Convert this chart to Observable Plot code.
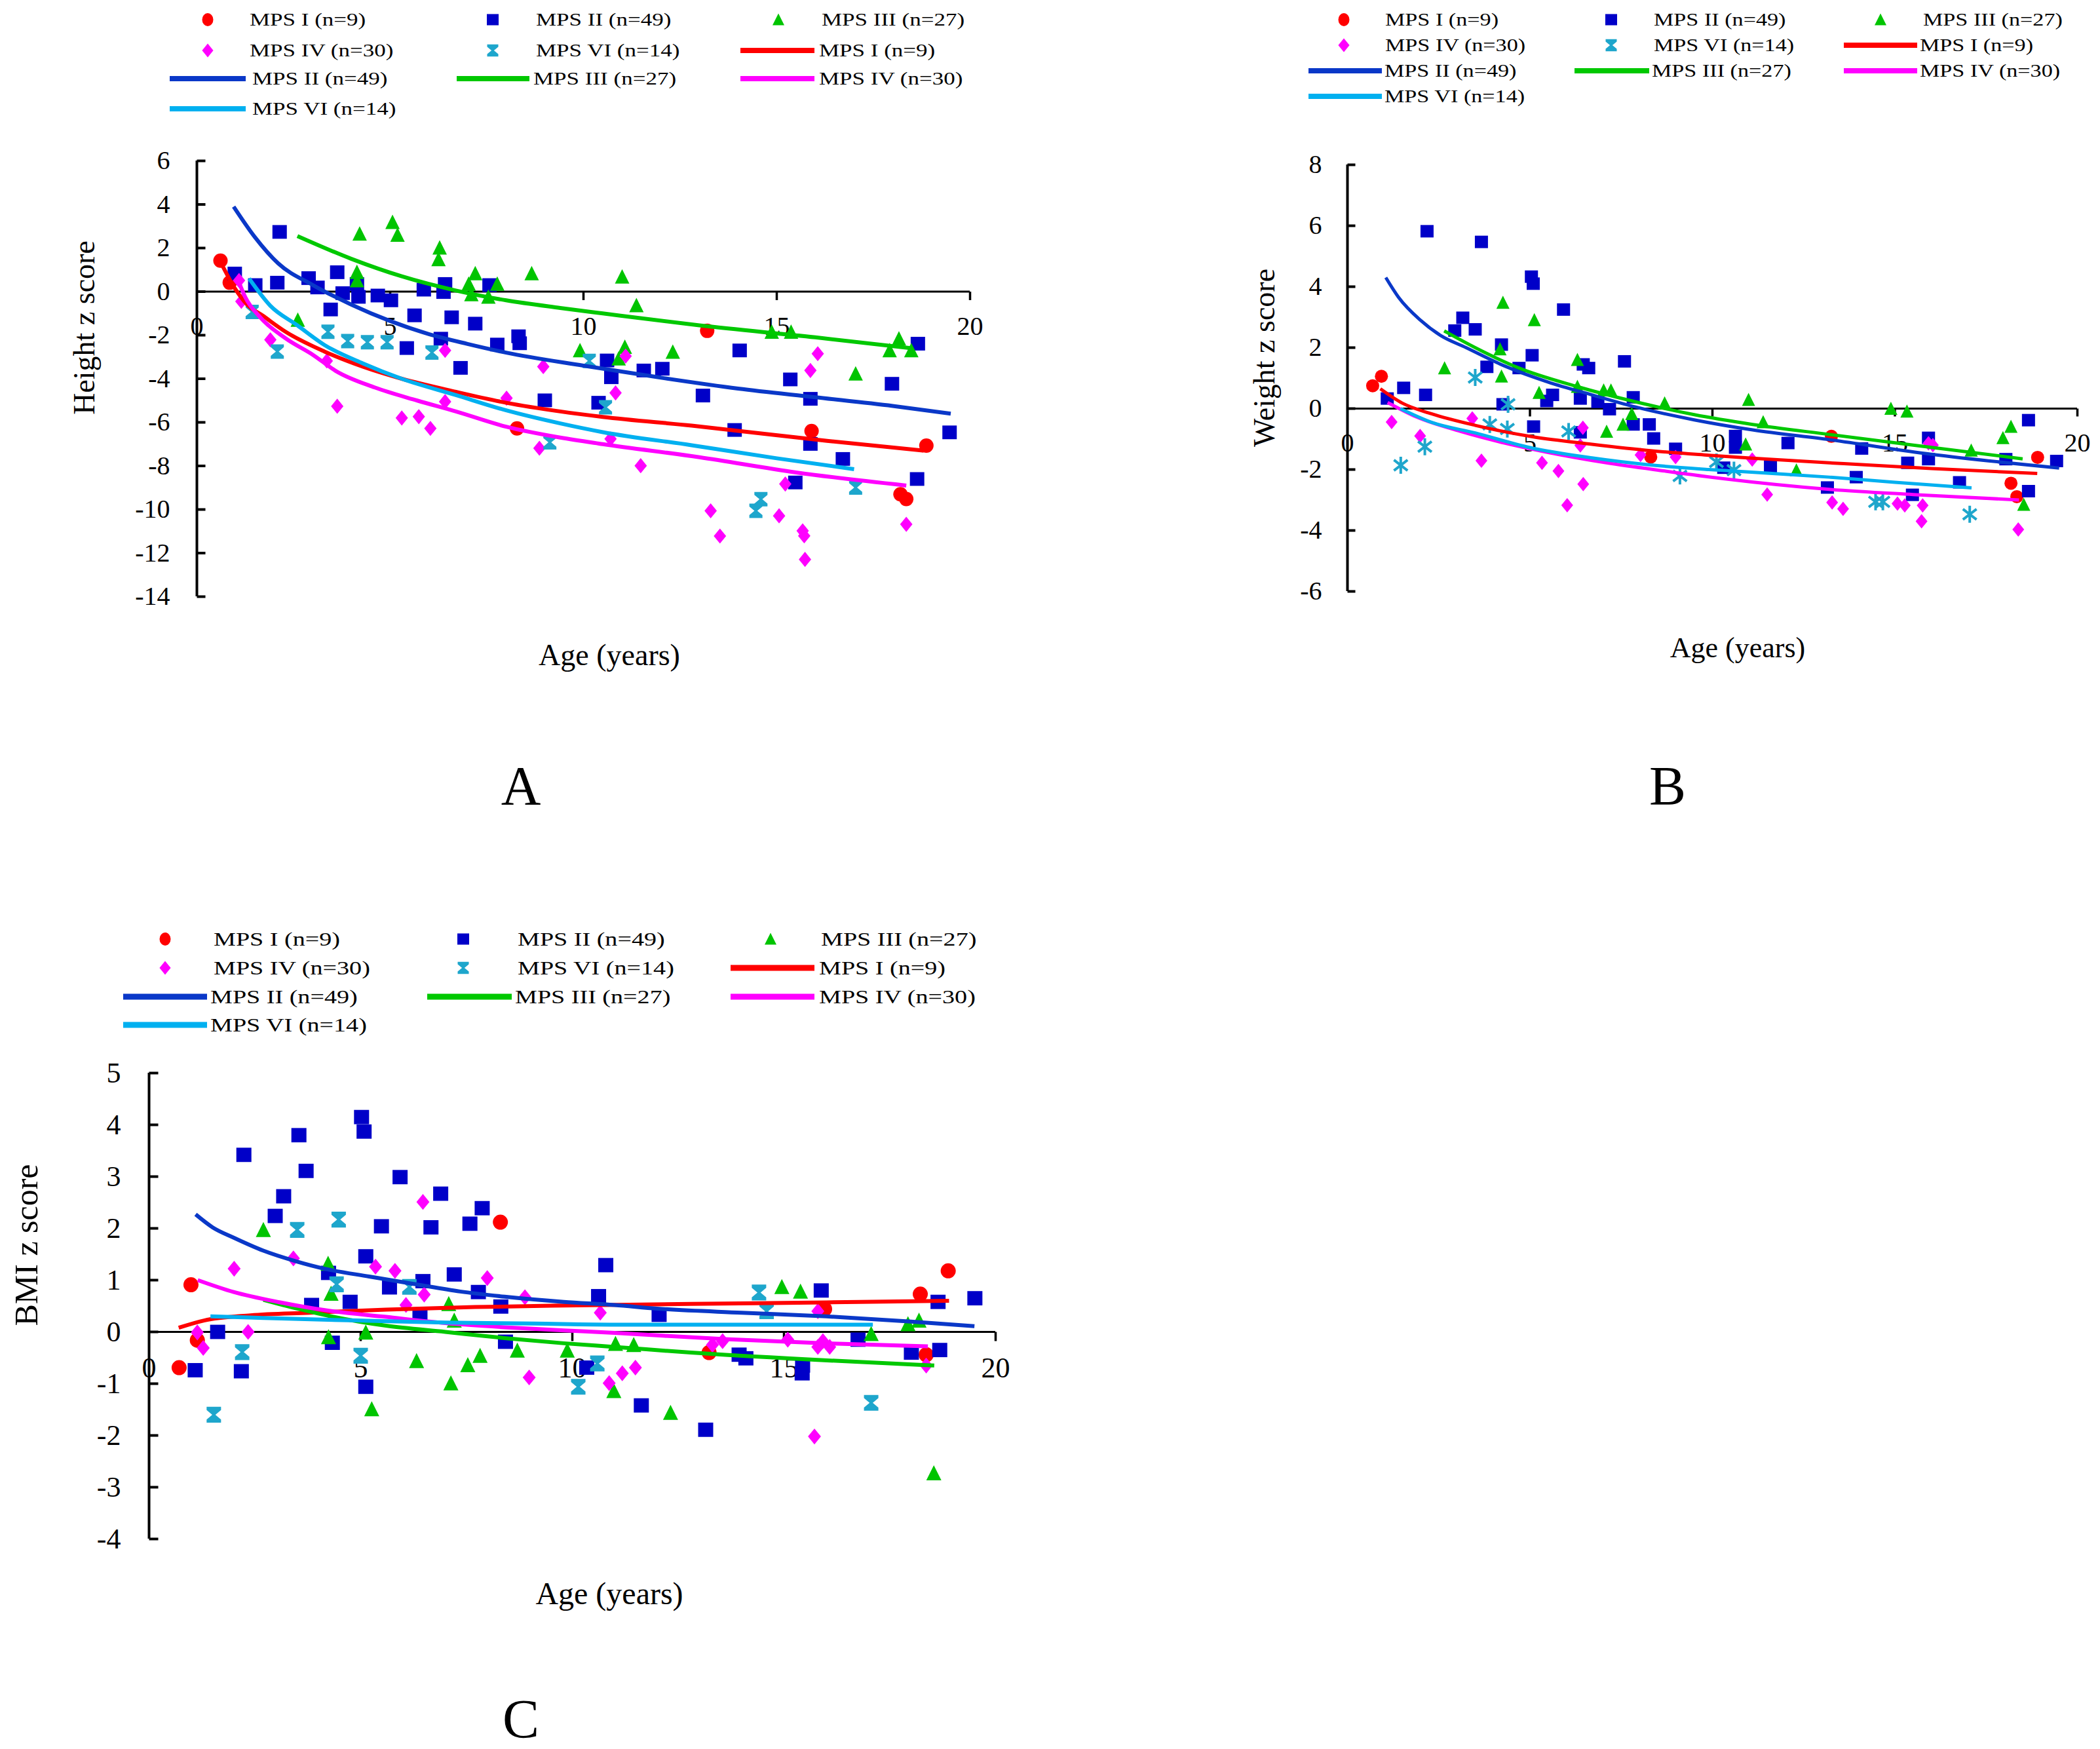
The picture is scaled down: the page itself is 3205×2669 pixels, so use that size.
<!DOCTYPE html>
<html><head><meta charset="utf-8">
<script src="https://cdn.jsdelivr.net/npm/d3@7"></script>
<script src="https://cdn.jsdelivr.net/npm/@observablehq/plot@0.6"></script>
<style>
html,body{margin:0;padding:0;background:#fff;}
#root{position:relative;width:3205px;height:2669px;background:#fff;font-family:"Liberation Serif","Times New Roman",serif;color:#000;overflow:hidden;}
.ttl{position:absolute;white-space:nowrap;line-height:1;transform:translate(-50%,-50%);}
.ttlv{position:absolute;white-space:nowrap;line-height:1;transform:translate(-50%,-50%) rotate(-90deg);}
.letter{position:absolute;white-space:nowrap;line-height:0.7;transform:translate(-50%,-50%);}
.lg{position:absolute;white-space:nowrap;line-height:1;transform-origin:0 50%;}
.plotbox{position:absolute;}
</style></head><body><div id="root"></div>
<script>
// ---------------- DATA ----------------
const SERIES = ["MPS I (n=9)", "MPS II (n=49)", "MPS III (n=27)", "MPS IV (n=30)", "MPS VI (n=14)"];
const X_TICKS = [0, 5, 10, 15, 20];
const A_Y_TICKS = [6, 4, 2, 0, -2, -4, -6, -8, -10, -12, -14];
const B_Y_TICKS = [8, 6, 4, 2, 0, -2, -4, -6];
const C_Y_TICKS = [5, 4, 3, 2, 1, 0, -1, -2, -3, -4];

// Panel A: Height z score  [age, z]
const A_I = [[0.61,1.42],[0.85,0.41],[8.28,-6.28],[13.2,-1.8],[15.9,-6.4],[18.87,-7.07],[18.2,-9.3],[18.35,-9.52]];
const A_II = [[0.98,0.83],[1.51,0.30],[2.08,0.41],[2.14,2.74],[2.89,0.62],[3.12,0.19],[3.63,0.89],[3.77,-0.07],[3.46,-0.82],[4.18,-0.24],[4.14,0.35],[4.68,-0.18],[5.02,-0.40],[5.87,0.09],[6.42,0.35],[6.38,-0.02],[5.63,-1.09],[5.43,-2.59],[6.31,-2.16],[6.59,-1.18],[6.82,-3.50],[7.20,-1.47],[7.57,0.30],[7.77,-2.43],[8.32,-2.05],[8.35,-2.37],[9.0,-4.99],[10.39,-5.1],[10.61,-3.16],[10.72,-3.93],[11.56,-3.62],[12.04,-3.54],[13.09,-4.77],[14.04,-2.70],[13.91,-6.35],[15.35,-4.03],[15.87,-4.92],[15.87,-6.99],[15.48,-8.76],[16.71,-7.68],[17.98,-4.23],[18.65,-2.39],[18.63,-8.6],[19.47,-6.46]];
const A_III = [[4.21,2.65],[5.06,3.19],[5.19,2.60],[6.28,2.01],[6.25,1.48],[4.14,0.89],[4.14,0.51],[7.20,0.83],[7.03,0.35],[7.10,-0.13],[7.77,0.35],[7.54,-0.24],[8.66,0.83],[2.61,-1.30],[9.91,-2.70],[11.0,0.68],[11.37,-0.63],[11.07,-2.54],[10.91,-3.08],[12.31,-2.77],[14.87,-1.85],[15.37,-1.85],[17.04,-3.77],[18.16,-2.16],[17.92,-2.70],[18.48,-2.70]];
const A_IV = [[1.09,0.51],[1.15,-0.45],[1.90,-2.21],[3.63,-5.26],[3.36,-3.18],[5.30,-5.80],[5.74,-5.74],[6.04,-6.28],[6.42,-5.05],[6.42,-2.70],[8.01,-4.89],[8.96,-3.44],[8.86,-7.19],[11.09,-2.96],[10.83,-4.65],[10.70,-6.76],[11.48,-7.99],[13.29,-10.06],[13.53,-11.22],[15.06,-10.29],[15.22,-8.83],[15.67,-10.98],[15.71,-11.21],[15.73,-12.29],[15.87,-3.62],[16.06,-2.85],[18.35,-10.68]];
const A_VI = [[1.43,-0.93],[2.08,-2.75],[3.39,-1.84],[3.90,-2.27],[4.41,-2.32],[4.92,-2.32],[6.08,-2.80],[9.13,-6.92],[10.15,-3.18],[10.57,-5.31],[14.46,-10.06],[14.59,-9.53],[17.04,-8.99]];
const A_I_FIT = [[0.6,1.4],[1,0.1],[1.3,-0.6],[1.7,-1.1],[2.3,-1.85],[3.3,-2.75],[4.3,-3.45],[5.3,-4.0],[6.7,-4.6],[8,-5.1],[9.4,-5.5],[10.5,-5.75],[12.8,-6.15],[16.3,-6.85],[18.8,-7.3]];
const A_II_FIT = [[0.95,3.9],[1.5,2.5],[2.1,1.3],[3,0.3],[4,-0.6],[5,-1.35],[6,-1.95],[7,-2.4],[8,-2.8],[10,-3.4],[12,-3.95],[14,-4.45],[16,-4.85],[18,-5.25],[19.5,-5.6]];
const A_III_FIT = [[2.6,2.55],[4,1.5],[5.3,0.7],[6.7,0.05],[8,-0.4],[9.4,-0.75],[10.5,-1.0],[13,-1.55],[16,-2.1],[18.5,-2.6]];
const A_IV_FIT = [[1.05,0.6],[1.25,-0.25],[1.65,-1.2],[2.3,-2.15],[3,-2.9],[3.6,-3.65],[4.6,-4.4],[5.7,-5.0],[6.7,-5.5],[8,-6.2],[9.4,-6.7],[10.5,-7.0],[13,-7.6],[15.5,-8.3],[18.35,-8.9]];
const A_VI_FIT = [[1.35,0.6],[1.9,-0.65],[2.6,-1.55],[3.3,-2.45],[4.3,-3.3],[5.3,-4.0],[6.7,-4.75],[8,-5.45],[9.4,-6.05],[10.5,-6.45],[12.8,-7.05],[15,-7.65],[17,-8.15]];

// Panel B: Weight z score
const B_I = [[0.69,0.75],[0.93,1.06],[8.31,-1.59],[13.26,-0.91],[18.91,-1.6],[18.18,-2.45],[18.34,-2.89]];
const B_II = [[2.18,5.82],[3.67,5.47],[5.04,4.33],[5.09,4.10],[5.92,3.25],[3.16,2.98],[2.94,2.56],[3.50,2.60],[4.22,2.10],[5.06,1.75],[3.82,1.37],[4.70,1.33],[6.46,1.45],[6.61,1.33],[7.59,1.55],[1.54,0.68],[2.14,0.45],[1.09,0.33],[5.62,0.45],[5.46,0.25],[6.38,0.33],[6.86,0.22],[7.83,0.37],[4.26,0.14],[7.18,-0.02],[7.83,-0.52],[8.27,-0.52],[8.39,-0.98],[5.10,-0.59],[6.38,-0.78],[8.99,-1.32],[10.63,-0.90],[10.63,-1.28],[12.07,-1.13],[11.59,-1.90],[10.31,-1.94],[13.15,-2.59],[14.09,-1.31],[13.94,-2.25],[15.35,-1.78],[15.48,-2.83],[15.92,-0.96],[15.92,-1.66],[16.77,-2.42],[18.04,-1.66],[18.66,-0.38],[18.66,-2.71],[19.43,-1.72]];
const B_III = [[4.26,3.48],[5.12,2.91],[2.66,1.33],[4.18,1.95],[4.22,1.06],[6.30,1.60],[5.25,0.52],[7.02,0.60],[7.22,0.60],[6.30,0.72],[7.79,-0.17],[7.55,-0.52],[7.10,-0.75],[8.69,0.18],[10.99,0.29],[11.39,-0.44],[10.91,-1.17],[12.30,-2.02],[14.89,0.0],[15.33,-0.09],[17.09,-1.37],[17.96,-0.96],[18.18,-0.59],[18.53,-3.15]];
const B_IV = [[1.21,-0.44],[1.99,-0.90],[3.42,-0.32],[3.67,-1.71],[5.33,-1.78],[5.78,-2.05],[6.46,-2.48],[6.02,-3.17],[6.45,-0.63],[6.38,-1.21],[8.03,-1.52],[8.99,-1.59],[11.09,-1.67],[11.50,-2.82],[13.28,-3.08],[13.58,-3.29],[15.07,-3.12],[15.27,-3.18],[15.76,-3.18],[15.73,-3.70],[16.04,-1.20],[15.92,-1.14],[18.38,-3.97]];
const B_VI = [[1.46,-1.86],[2.12,-1.25],[3.50,1.02],[4.40,0.14],[3.90,-0.52],[4.38,-0.67],[6.06,-0.75],[9.11,-2.21],[10.11,-1.75],[10.59,-2.02],[14.47,-3.06],[14.67,-3.06],[17.05,-3.47]];
const B_I_FIT = [[0.9,0.65],[1.5,0.18],[2.3,-0.17],[3.5,-0.55],[5.1,-0.93],[6.7,-1.17],[8.3,-1.38],[9.9,-1.53],[11.1,-1.63],[13.2,-1.78],[16,-1.97],[18.9,-2.13]];
const B_II_FIT = [[1.05,4.3],[1.4,3.65],[2,2.9],[2.55,2.4],[3.25,2.0],[4.3,1.4],[5.5,0.87],[6.7,0.45],[7.9,0.05],[9.5,-0.37],[11.1,-0.7],[13.2,-1.02],[16,-1.5],[19.5,-1.95]];
const B_III_FIT = [[2.65,2.55],[3.5,2.0],[4.7,1.33],[6.3,0.72],[7.9,0.22],[9.5,-0.2],[11.1,-0.52],[13.2,-0.85],[15.5,-1.2],[18.5,-1.65]];
const B_IV_FIT = [[1.1,0.2],[1.9,-0.28],[3.1,-0.75],[4.3,-1.13],[5.5,-1.44],[7.1,-1.78],[8.7,-2.05],[10.3,-2.3],[13.2,-2.65],[15.5,-2.82],[18.4,-3.0]];
const B_VI_FIT = [[1.45,0.0],[2.3,-0.45],[3.5,-0.8],[5,-1.28],[6.7,-1.62],[8.3,-1.85],[9.9,-2.0],[11.5,-2.12],[13.2,-2.25],[15,-2.42],[17.1,-2.6]];

// Panel C: BMI z score
const C_I = [[0.99,0.91],[0.71,-0.69],[1.14,-0.16],[8.30,2.12],[18.88,1.18],[18.22,0.73],[18.36,-0.44],[13.23,-0.40],[15.96,0.44]];
const C_II = [[1.09,-0.74],[1.62,0.0],[2.24,3.42],[2.18,-0.76],[2.98,2.24],[3.18,2.62],[3.54,3.80],[3.71,3.11],[3.84,0.52],[4.24,1.14],[4.33,-0.21],[4.75,0.58],[5.02,4.15],[5.08,3.87],[5.12,1.46],[5.12,-1.06],[5.49,2.04],[5.68,0.86],[5.93,2.99],[6.47,0.98],[6.40,0.32],[6.66,2.02],[6.89,2.67],[7.21,1.11],[7.58,2.09],[7.78,0.77],[7.87,2.39],[8.31,0.49],[8.42,-0.19],[10.62,0.69],[10.79,1.29],[10.34,-0.69],[12.05,0.33],[11.63,-1.42],[13.15,-1.89],[13.94,-0.44],[14.1,-0.51],[15.44,-0.65],[15.43,-0.80],[15.88,0.80],[16.75,-0.15],[18.01,-0.40],[18.64,0.58],[18.68,-0.35],[19.51,0.65]];
const C_III = [[2.70,1.97],[4.23,1.32],[4.30,0.74],[4.24,-0.10],[5.12,-0.01],[5.26,-1.49],[6.32,-0.56],[7.08,0.54],[7.21,0.22],[7.13,-0.99],[7.53,-0.64],[7.82,-0.46],[8.70,-0.36],[9.88,-0.36],[10.98,-1.14],[11.02,-0.23],[11.45,-0.25],[12.32,-1.56],[14.95,0.87],[15.39,0.78],[17.06,-0.04],[17.93,0.15],[18.19,0.22],[18.54,-2.73]];
const C_IV = [[1.14,-0.01],[1.28,-0.31],[2.01,1.22],[2.34,0.0],[3.41,1.42],[5.35,1.26],[5.81,1.18],[6.47,2.51],[6.50,0.72],[6.07,0.52],[7.99,1.04],[8.88,0.67],[8.98,-0.88],[10.66,0.37],[10.87,-0.99],[11.18,-0.80],[11.49,-0.69],[13.31,-0.25],[13.55,-0.18],[15.09,-0.15],[15.72,-2.02],[15.80,-0.29],[15.92,-0.18],[16.08,-0.29],[15.80,0.40],[18.36,-0.65]];
const C_VI = [[1.53,-1.60],[2.20,-0.39],[3.50,1.97],[4.48,2.17],[4.43,0.92],[5.00,-0.46],[6.15,0.87],[10.14,-1.06],[10.59,-0.61],[14.41,0.76],[14.59,0.40],[17.06,-1.37]];
const C_I_FIT = [[0.7,0.08],[1.3,0.22],[2.4,0.32],[3.8,0.37],[5.6,0.43],[7.7,0.48],[9.8,0.51],[12.8,0.54],[16,0.57],[18.9,0.6]];
const C_II_FIT = [[1.1,2.27],[1.5,2.02],[2,1.82],[2.7,1.57],[3.45,1.37],[4.15,1.22],[5.2,1.07],[6.3,0.92],[7.35,0.78],[8.4,0.68],[9.8,0.58],[11,0.52],[12,0.45],[14,0.37],[16,0.3],[18,0.2],[19.5,0.11]];
const C_III_FIT = [[2.7,0.62],[3.5,0.45],[4.3,0.3],[5.6,0.12],[7,0.0],[8.4,-0.12],[9.8,-0.22],[11,-0.29],[12.8,-0.4],[15.5,-0.53],[18.55,-0.65]];
const C_IV_FIT = [[1.15,1.0],[2,0.77],[3.1,0.57],[4.15,0.42],[5.6,0.29],[7,0.17],[8.4,0.09],[9.8,0.03],[11,-0.02],[13.6,-0.14],[16,-0.22],[18.4,-0.28]];
const C_VI_FIT = [[1.45,0.3],[2.7,0.27],[4.9,0.22],[7,0.18],[9.1,0.16],[11,0.14],[14,0.14],[17.1,0.14]];

// ---------------- STYLE ----------------
const PT_COLORS = ["#FF0000", "#0000C8", "#00C400", "#FF00FF", "#1EA6CC"];
const LN_COLORS = ["#FF0000", "#0A38C8", "#00C800", "#FF00FF", "#00B0F0"];
const FONT = '"Liberation Serif","Times New Roman",serif';

const mk = f => ({draw(c, size) { f(c, Math.sqrt(size / Math.PI)); }});
const SYM = {
  square: mk((c, r) => { c.moveTo(-r, -r*0.95); c.lineTo(r, -r*0.95); c.lineTo(r, r*0.95); c.lineTo(-r, r*0.95); c.closePath(); }),
  triangle: mk((c, r) => { c.moveTo(0, -r*1.05); c.lineTo(r, r*0.95); c.lineTo(-r, r*0.95); c.closePath(); }),
  diamond: mk((c, r) => { c.moveTo(0, -r*1.1); c.lineTo(r*0.9, 0); c.lineTo(0, r*1.1); c.lineTo(-r*0.9, 0); c.closePath(); }),
  hourglass: mk((c, r) => { const h = r*1.1; c.moveTo(-r, -h); c.lineTo(r, -h); c.lineTo(r, -0.6*h); c.lineTo(0.22*r, 0); c.lineTo(r, 0.6*h); c.lineTo(r, h); c.lineTo(-r, h); c.lineTo(-r, 0.6*h); c.lineTo(-0.22*r, 0); c.lineTo(-r, -0.6*h); c.closePath(); }),
  asterisk: mk((c, r) => { c.moveTo(0, -r); c.lineTo(0, r); c.moveTo(-0.8*r, -0.62*r); c.lineTo(0.8*r, 0.62*r); c.moveTo(-0.8*r, 0.62*r); c.lineTo(0.8*r, -0.62*r); }),
  tickRight: mk((c, r) => { c.moveTo(0, 0); c.lineTo(r, 0); }),
  tickDown: mk((c, r) => { c.moveTo(0, 0); c.lineTo(0, r); })
};

const root = document.getElementById("root");

function drawPanel(cfg) {
  const marks = [];
  const [y0, y1] = cfg.yDomain;
  marks.push(Plot.ruleY([{x1: 0, x2: 20, y: 0}], {x1: "x1", x2: "x2", y: "y", stroke: "#000", strokeWidth: 3}));
  marks.push(Plot.ruleX([{x: 0, y1: y0, y2: y1}], {x: "x", y1: "y1", y2: "y2", stroke: "#000", strokeWidth: 4}));
  marks.push(Plot.dot(cfg.yTicks, {x: () => 0, y: d => d, symbol: SYM.tickRight, r: cfg.tickLen, stroke: "#000", strokeWidth: 4, fill: "none"}));
  marks.push(Plot.dot(X_TICKS.filter(d => d > 0), {x: d => d, y: () => 0, symbol: SYM.tickDown, r: cfg.tickLen, stroke: "#000", strokeWidth: 3.5, fill: "none"}));
  marks.push(Plot.text(cfg.yTicks, {x: () => 0, y: d => d, text: d => String(d), textAnchor: "end", dx: -cfg.pad, fontSize: cfg.fs, fill: "#000"}));
  marks.push(Plot.text(X_TICKS, {x: d => d, y: () => 0, text: d => String(d), dy: cfg.xdy, fontSize: cfg.fs, fill: "#000"}));
  const syms = ["circle", SYM.square, SYM.triangle, SYM.diamond, cfg.viSym];
  cfg.pts.forEach((p, i) => {
    const stroked = cfg.viSym === SYM.asterisk && i === 4;
    marks.push(Plot.dot(p, {x: d => d[0], y: d => d[1], symbol: syms[i], r: cfg.sizes[i],
      fill: stroked ? "none" : PT_COLORS[i], stroke: stroked ? PT_COLORS[i] : "none", strokeWidth: stroked ? 4 : 0}));
  });
  cfg.fits.forEach((f, i) => {
    marks.push(Plot.line(f, {x: d => d[0], y: d => d[1], stroke: LN_COLORS[i], strokeWidth: cfg.lw, curve: "monotone-x", strokeLinecap: "butt"}));
  });
  const svg = Plot.plot({
    width: cfg.box.w, height: cfg.box.h,
    marginLeft: cfg.m[0], marginRight: cfg.m[1], marginTop: cfg.m[2], marginBottom: cfg.m[3],
    x: {domain: [0, 20], axis: null},
    y: {domain: [y0, y1], axis: null},
    style: {fontFamily: FONT, background: "white", overflow: "visible"},
    marks
  });
  const div = document.createElement("div");
  div.className = "plotbox";
  div.style.left = cfg.box.x + "px"; div.style.top = cfg.box.y + "px";
  div.appendChild(svg);
  root.appendChild(div);

  // titles
  const addText = (cls, txt, x, y, fs) => {
    const d = document.createElement("div");
    d.className = cls; d.textContent = txt;
    d.style.left = x + "px"; d.style.top = y + "px"; d.style.fontSize = fs + "px";
    root.appendChild(d);
  };
  addText("ttlv", cfg.yTitle, cfg.yTitlePos[0], cfg.yTitlePos[1], cfg.yTitleFs);
  addText("ttl", "Age (years)", cfg.xTitlePos[0], cfg.xTitlePos[1], cfg.xTitleFs);
  addText("letter", cfg.letter, cfg.letterPos[0], cfg.letterPos[1], 84);

  // legend
  const L = cfg.legend;
  const entries = [];
  SERIES.forEach((s, i) => entries.push({kind: "dot", i}));
  SERIES.forEach((s, i) => entries.push({kind: "line", i}));
  entries.forEach((e, k) => {
    const col = k % 3, row = Math.floor(k / 3);
    const y = L.rows[row];
    const ns = "http://www.w3.org/2000/svg";
    const s = document.createElementNS(ns, "svg");
    s.style.position = "absolute";
    let tx;
    if (e.kind === "dot") {
      const cx = L.dotX[col];
      s.setAttribute("width", 30); s.setAttribute("height", 30);
      s.style.left = (cx - 15) + "px"; s.style.top = (y - 15) + "px";
      let el;
      if (e.i === 0) {
        el = document.createElementNS(ns, "ellipse");
        el.setAttribute("cx", 15); el.setAttribute("cy", 15); el.setAttribute("rx", 8.5); el.setAttribute("ry", 10);
      } else {
        el = document.createElementNS(ns, "path");
        const p = d3.path();
        const sy = [null, SYM.square, SYM.triangle, SYM.diamond, SYM.hourglass][e.i];
        const rr = [0, 9, 9, 9.5, 8.5][e.i];
        sy.draw(p, rr * rr * Math.PI);
        el.setAttribute("d", p.toString());
        el.setAttribute("transform", "translate(15,15)");
      }
      el.setAttribute("fill", PT_COLORS[e.i]);
      s.appendChild(el);
      tx = L.dotTextX[col];
    } else {
      const [xa, xb] = L.lineX[col];
      s.setAttribute("width", xb - xa); s.setAttribute("height", 20);
      s.style.left = xa + "px"; s.style.top = (y - 10) + "px";
      const ln = document.createElementNS(ns, "line");
      ln.setAttribute("x1", 0); ln.setAttribute("x2", xb - xa); ln.setAttribute("y1", 10); ln.setAttribute("y2", 10);
      ln.setAttribute("stroke", LN_COLORS[e.i]); ln.setAttribute("stroke-width", L.lw);
      ln.setAttribute("stroke-linecap", "round");
      s.appendChild(ln);
      tx = L.lineTextX[col];
    }
    root.appendChild(s);
    const t = document.createElement("div");
    t.className = "lg"; t.textContent = SERIES[e.i];
    t.style.left = tx + "px"; t.style.top = y + "px"; t.style.fontSize = L.fs + "px";
    t.style.transform = `translateY(-50%) scaleX(${L.sx})`;
    root.appendChild(t);
  });
}

drawPanel({
  pts: [A_I, A_II, A_III, A_IV, A_VI],
  fits: [A_I_FIT, A_II_FIT, A_III_FIT, A_IV_FIT, A_VI_FIT],
  yDomain: [-14, 6], yTicks: A_Y_TICKS, viSym: SYM.hourglass,
  sizes: [11, 11, 11, 10.5, 10], lw: 6, tickLen: 13, pad: 41, fs: 40, xdy: 53,
  box: {x: 0, y: 200, w: 1560, h: 780}, m: [300, 80, 45, 70],
  yTitle: "Height z score", yTitlePos: [129, 500], yTitleFs: 46,
  xTitlePos: [930, 1000], xTitleFs: 46, letter: "A", letterPos: [795, 1200],
  legend: {rows: [30, 77, 120, 166], dotX: [317, 752, 1188], dotTextX: [381, 818, 1254],
    lineX: [[259, 375], [697, 808], [1130, 1243]], lineTextX: [385, 814, 1250], fs: 28, sx: 1.25, lw: 8}
});

drawPanel({
  pts: [B_I, B_II, B_III, B_IV, B_VI],
  fits: [B_I_FIT, B_II_FIT, B_III_FIT, B_IV_FIT, B_VI_FIT],
  yDomain: [-6, 8], yTicks: B_Y_TICKS, viSym: SYM.asterisk,
  sizes: [10, 10, 10, 10, 13], lw: 5, tickLen: 12, pad: 39, fs: 40, xdy: 53,
  box: {x: 1800, y: 200, w: 1405, h: 780}, m: [256, 35, 51, 78],
  yTitle: "Weight z score", yTitlePos: [1930, 546], yTitleFs: 46,
  xTitlePos: [2652, 989], xTitleFs: 44, letter: "B", letterPos: [2545, 1200],
  legend: {rows: [30, 69, 108, 147], dotX: [2051, 2459, 2870], dotTextX: [2114, 2524, 2935],
    lineX: [[1997, 2109], [2403, 2517], [2814, 2926]], lineTextX: [2113, 2521, 2930], fs: 28, sx: 1.22, lw: 8}
});

drawPanel({
  pts: [C_I, C_II, C_III, C_IV, C_VI],
  fits: [C_I_FIT, C_II_FIT, C_III_FIT, C_IV_FIT, C_VI_FIT],
  yDomain: [-4, 5], yTicks: C_Y_TICKS, viSym: SYM.hourglass,
  sizes: [11.5, 11.5, 11.5, 11, 11], lw: 6, tickLen: 14, pad: 43, fs: 44, xdy: 55,
  box: {x: 0, y: 1600, w: 1560, h: 800}, m: [227, 41, 37, 52],
  yTitle: "BMI z score", yTitlePos: [40, 1900], yTitleFs: 50,
  xTitlePos: [930, 2432], xTitleFs: 48, letter: "C", letterPos: [795, 2624],
  legend: {rows: [1433, 1477, 1521, 1564], dotX: [252, 707, 1176], dotTextX: [326, 790, 1253],
    lineX: [[188, 316], [652, 781], [1115, 1243]], lineTextX: [321, 786, 1250], fs: 30, sx: 1.27, lw: 9}
});
</script></body></html>
